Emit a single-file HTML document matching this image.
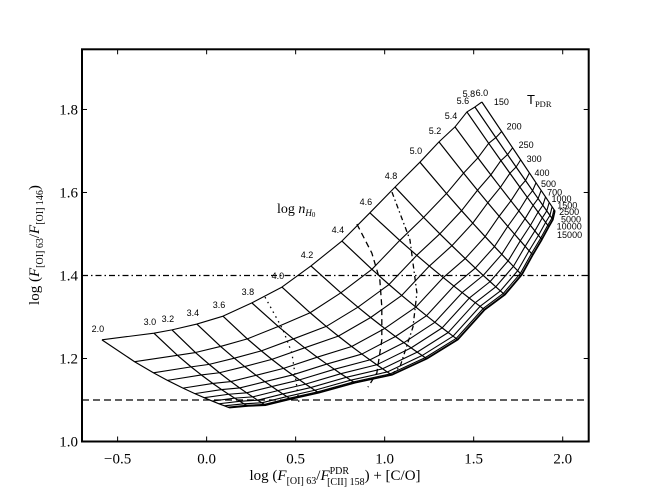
<!DOCTYPE html>
<html><head><meta charset="utf-8"><style>
html,body{margin:0;padding:0;background:#fff;}
svg{display:block;}
.tk{font-family:"Liberation Serif","DejaVu Serif",serif;font-size:15px;}
.sm{font-family:"Liberation Sans","DejaVu Sans",sans-serif;font-size:9px;}
</style></head><body>
<svg id="chart" width="654" height="491" viewBox="0 0 654 491" xmlns="http://www.w3.org/2000/svg">
<g id="marks"></g>
<g id="axes"></g>
</svg>
<script>
const densities=["2.0","3.0","3.2","3.4","3.6","3.8","4.0","4.2","4.4","4.6","4.8","5.0","5.2","5.4","5.6","5.8","6.0"];
const temps=["150","200","250","300","400","500","700","1000","1500","2500","5000","10000","15000"];
const topX=[-0.588,-0.296,-0.195,-0.055,0.092,0.254,0.423,0.586,0.760,0.917,1.058,1.198,1.305,1.395,1.462,1.507,1.546];
const topY=[1.245,1.261,1.269,1.283,1.302,1.334,1.372,1.423,1.483,1.551,1.613,1.673,1.722,1.758,1.794,1.806,1.818];
const endX=[0.131,0.232,0.333,0.474,0.631,0.834,1.041,1.238,1.412,1.563,1.676,1.771,1.833,1.884,1.923,1.946,1.957];
const endY=[1.081,1.085,1.087,1.102,1.117,1.141,1.160,1.199,1.245,1.317,1.353,1.401,1.449,1.486,1.517,1.534,1.555];
const tFrac=[0,0.27,0.42,0.53,0.65,0.74,0.81,0.87,0.92,0.96,0.985,0.995,1];
const dotX=[0.328,0.429,0.479,0.507,0.518];
const dotY=[1.348,1.269,1.213,1.131,1.095];
const dashX=[0.844,0.928,0.973,0.984,0.984,0.956,0.906];
const dashY=[1.524,1.454,1.389,1.324,1.245,1.165,1.131];
const ddX=[1.041,1.142,1.181,1.159,1.086,1.047];
const ddY=[1.601,1.486,1.358,1.276,1.180,1.165];
const hDashDot=[1.4];
const hDash=[1.1];
const xTicks=[-0.5,0.0,0.5,1.0,1.5,2.0];
const xTickLabels=["\u22120.5","0.0","0.5","1.0","1.5","2.0"];
const yTicks=[1.0,1.2,1.4,1.6,1.8];
const yTickLabels=["1.0","1.2","1.4","1.6","1.8"];

const L=82,R=588.7,T=49.3,B=441.5;
const x0=-0.70,x1=2.146,y0=1.0,y1=1.945;
function sx(v){return L+(v-x0)/(x1-x0)*(R-L);}
function sy(v){return B-(v-y0)/(y1-y0)*(B-T);}
const NS="http://www.w3.org/2000/svg";
const marks=document.getElementById('marks');
const axes=document.getElementById('axes');
function el(tag,attrs,parent){const e=document.createElementNS(NS,tag);for(const k in attrs)e.setAttribute(k,attrs[k]);parent.appendChild(e);return e;}
function pt(i,j){
  const f=tFrac[j];
  const ax=sx(topX[i]),ay=sy(topY[i]),bx=sx(endX[i]),by=sy(endY[i]);
  const bend=0.07*(1-i/(densities.length-1));
  const cx=(ax+bx)/2-bend*(by-ay), cy=(ay+by)/2+bend*(bx-ax);
  const u=1-f;
  return [u*u*ax+2*u*f*cx+f*f*bx, u*u*ay+2*u*f*cy+f*f*by];
}

const defs=el('defs',{},document.getElementById('chart'));
const cp=el('clipPath',{id:'pc'},defs);
el('rect',{x:L,y:T,width:R-L,height:B-T},cp);
marks.setAttribute('clip-path','url(#pc)');

hDashDot.forEach(v=>{
  const l=el('line',{x1:L,x2:R,y1:sy(v),y2:sy(v),stroke:'#000','stroke-width':1.3,'stroke-dasharray':'6 3 1.5 3'},marks);
  
  
});
hDash.forEach(v=>{
  const l=el('line',{x1:L,x2:R,y1:sy(v),y2:sy(v),stroke:'#000','stroke-width':1.3,'stroke-dasharray':'7 4'},marks);
  
  
});

densities.forEach((d,i)=>{
  const pts=tFrac.map((f,j)=>pt(i,j).join(',')).join(' ');
  const p=el('polyline',{points:pts,fill:'none',stroke:'#000','stroke-width':1.2,'stroke-linejoin':'round'},marks);
  
  
});
temps.forEach((t,j)=>{
  const pts=densities.map((d,i)=>pt(i,j).join(',')).join(' ');
  const p=el('polyline',{points:pts,fill:'none',stroke:'#000','stroke-width':1.1,'stroke-linejoin':'round'},marks);
  
  
});
function curve(xs,ys,dash,name){
  const pts=xs.map((v,k)=>sx(v)+','+sy(ys[k])).join(' ');
  const p=el('polyline',{points:pts,fill:'none',stroke:'#000','stroke-width':1.3,'stroke-dasharray':dash},marks);
  
  
}
curve(dotX,dotY,'1.5 4','dotted-curve');
curve(dashX,dashY,'6 4','dashed-curve');
curve(ddX,ddY,'5 3 1.5 3','dash-dot-curve');

densities.forEach((d,i)=>{
  let dx=-4,dy=-8;
  if(d==="5.8"){dx=-6;dy=-10;}
  if(d==="6.0"){dx=0;dy=-6;}
  const t=el('text',{x:sx(topX[i])+dx,y:sy(topY[i])+dy,'text-anchor':'middle',class:'sm'},marks);
  t.textContent=d;
  
  
});
const last=densities.length-1;
const tOff=[[12,0],[5,-5],[6,-3],[6,-1],[5,0],[5,1],[6,2],[6,2],[8,3],[7,5],[7,10],[2,16],[2,24]];
temps.forEach((t,j)=>{
  const p=pt(last,j);
  const e=el('text',{x:p[0]+tOff[j][0],y:p[1]+tOff[j][1]+3,class:'sm'},marks);
  e.textContent=t;
  
  
});
</script>
<svg style="position:absolute;left:0;top:0" width="654" height="491">
<text x="527" y="104" font-family="Liberation Sans, sans-serif" font-size="13">T<tspan font-family="Liberation Serif, serif" font-size="8.5" dy="3">PDR</tspan></text>
<text x="277" y="213" font-family="Liberation Serif, serif" font-size="14">log <tspan font-style="italic">n</tspan><tspan font-style="italic" font-size="9" dy="3">H</tspan><tspan font-size="7" dy="1">0</tspan></text>
</svg>
<script>
const fr=el('rect',{x:L,y:T,width:R-L,height:B-T,fill:'none',stroke:'#000','stroke-width':2},axes);


xTicks.forEach((v,k)=>{
  const X=sx(v);
  el('line',{x1:X,x2:X,y1:B,y2:B-5,stroke:'#000','stroke-width':1},axes);
  el('line',{x1:X,x2:X,y1:T,y2:T+5,stroke:'#000','stroke-width':1},axes);
  const t=el('text',{x:X,y:B+22,'text-anchor':'middle',class:'tk'},axes);
  t.textContent=xTickLabels[k];
  
  
});
yTicks.forEach((v,k)=>{
  const Y=sy(v);
  el('line',{x1:L,x2:L+5,y1:Y,y2:Y,stroke:'#000','stroke-width':1},axes);
  el('line',{x1:R,x2:R-5,y1:Y,y2:Y,stroke:'#000','stroke-width':1},axes);
  const t=el('text',{x:L-4,y:Y+5,'text-anchor':'end',class:'tk'},axes);
  t.textContent=yTickLabels[k];
  
  
});
const xt=el('text',{x:335,y:480,'text-anchor':'middle','font-family':'Liberation Serif, serif','font-size':15},axes);


xt.innerHTML='log (<tspan font-style="italic">F</tspan><tspan font-size="10" dy="4">[OI] 63</tspan><tspan dy="-4">/</tspan><tspan font-style="italic">F</tspan><tspan font-size="10" dy="-6">PDR</tspan><tspan font-size="10" dx="-22" dy="11">[CII] 158</tspan><tspan dy="-5">) + [C/O]</tspan>';
const yt=el('text',{x:0,y:0,'text-anchor':'middle','font-family':'Liberation Serif, serif','font-size':15,transform:'translate(39,245) rotate(-90)'},axes);


yt.innerHTML='log (<tspan font-style="italic">F</tspan><tspan font-size="10" dy="4">[OI] 63</tspan><tspan dy="-4">/</tspan><tspan font-style="italic">F</tspan><tspan font-size="10" dy="4">[OI] 146</tspan><tspan dy="-4">)</tspan>';
</script>
</body></html>
